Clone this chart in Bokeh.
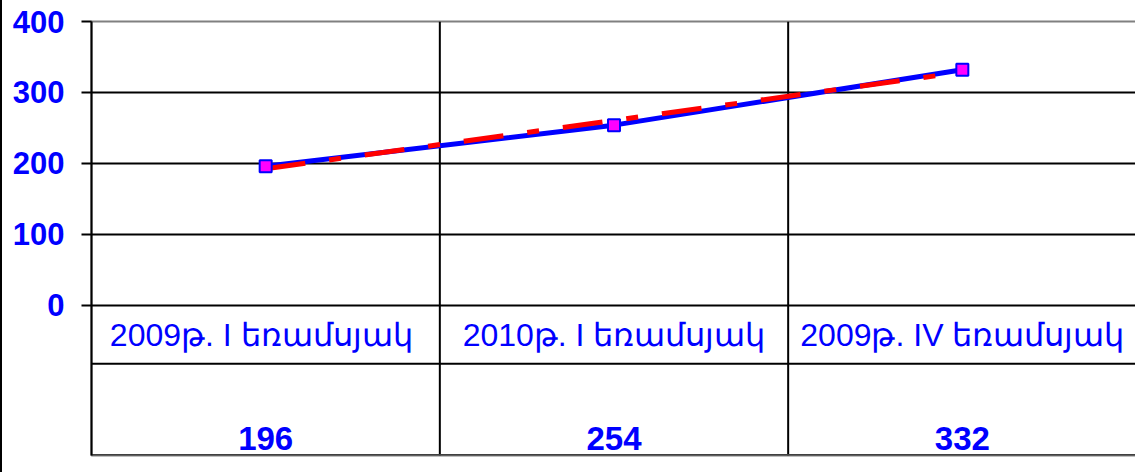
import numpy as np
from bokeh.plotting import figure
from bokeh.models import Range1d, FixedTicker
from bokeh.core.properties import value
from bokeh.embed import file_html
from bokeh.resources import INLINE

categories = ["2009թ.  I եռամսյակ", "2010թ. I եռամսյակ", "2009թ. IV եռամսյակ"]
values = [196, 254, 332]
y_ticks = [0, 100, 200, 300, 400]

BLUE = "#0000FF"
FONT = "Liberation Sans"

n = len(categories)
xs = [i + 0.5 for i in range(n)]
slope, icpt = np.polyfit(xs, values, 1)
trend = [slope * x + icpt for x in xs]

y_bottom = -211.3
row_line_y = -82
label_y = -41
value_y = -187

p = figure(width=1135, height=472, output_backend="svg", toolbar_location=None,
           x_range=Range1d(0, n), y_range=Range1d(y_bottom, 400),
           min_border_left=89, min_border_right=1, min_border_top=21, min_border_bottom=17)
p.styles = {"border-left": "2px solid black"}
p.xaxis.visible = False
p.xgrid.visible = False
p.ygrid.ticker = FixedTicker(ticks=y_ticks[:-1])
p.ygrid.grid_line_color = "black"
p.ygrid.grid_line_width = 2
p.outline_line_color = "#808080"
p.outline_line_width = 2

ax = p.yaxis[0]
ax.ticker = FixedTicker(ticks=y_ticks)
ax.axis_line_color = "black"
ax.axis_line_width = 2
ax.major_tick_in = 0
ax.major_tick_out = 10
ax.major_tick_line_width = 2
ax.minor_tick_line_color = None
ax.major_label_standoff = 17
ax.major_label_text_font = FONT
ax.major_label_text_font_style = "bold"
ax.major_label_text_font_size = "31px"
ax.major_label_text_color = BLUE

# table lines
bounds = list(range(1, n))
p.segment(x0=bounds, x1=bounds, y0=[y_bottom] * len(bounds), y1=[400] * len(bounds),
          line_color="black", line_width=2)
p.segment(x0=[0], x1=[n], y0=[row_line_y], y1=[row_line_y], line_color="black", line_width=2)
p.segment(x0=[0], x1=[n], y0=[y_bottom], y1=[y_bottom], line_color="#404040", line_width=3)

# series
p.line(xs, values, line_color=BLUE, line_width=5)
p.line(xs, trend, line_color="#FF0000", line_width=5, line_dash="40 24 12 24")
p.scatter(xs, values, marker="square", size=12, fill_color="#FF00FF",
          line_color=BLUE, line_width=2)

# table texts
p.text(x=xs, y=[label_y] * n, text=categories, text_font=value(FONT),
       text_font_size="32px", text_color=BLUE, text_align="center", text_baseline="middle")
p.text(x=xs, y=[value_y] * n, text=[str(v) for v in values], text_font=value(FONT),
       text_font_size="33px", text_font_style="bold", text_color=BLUE,
       text_align="center", text_baseline="middle")

open("out.html", "w").write(file_html(p, INLINE))
